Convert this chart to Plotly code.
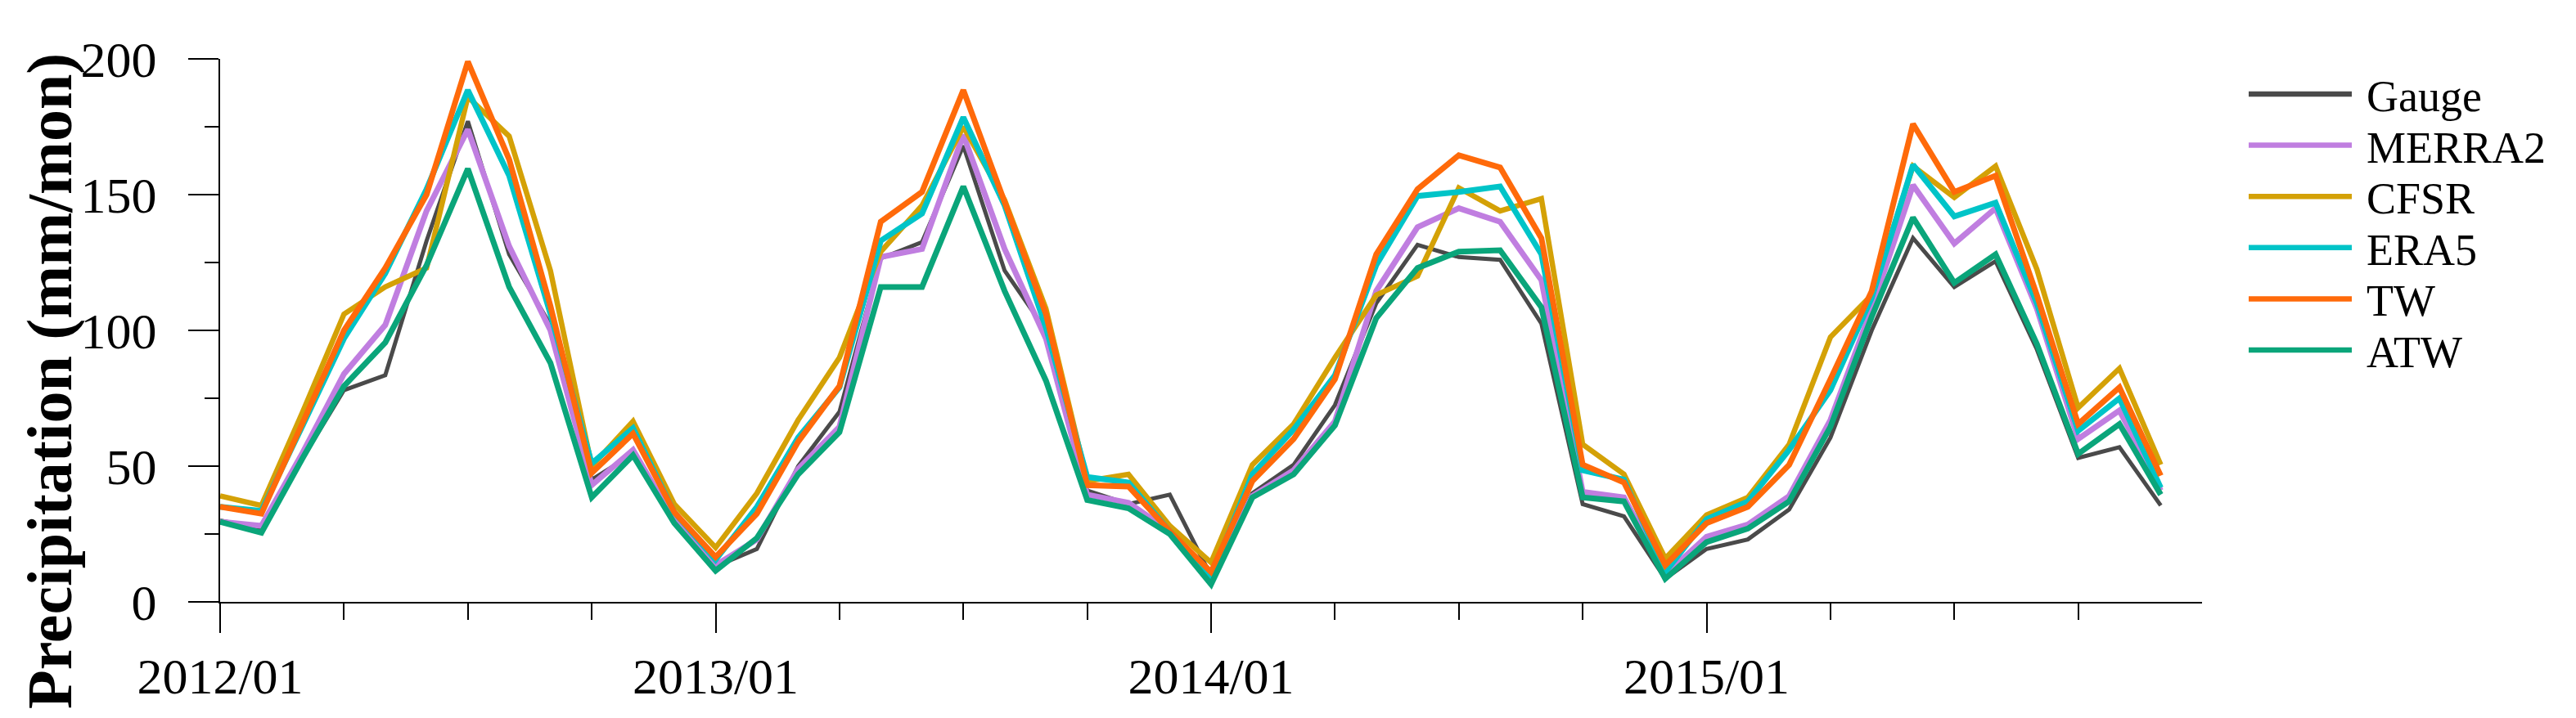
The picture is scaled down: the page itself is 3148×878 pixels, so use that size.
import plotly.graph_objects as go

# ---- data -------------------------------------------------------------
years = [2012, 2013, 2014, 2015]
months = [f"{y}/{m:02d}" for y in years for m in range(1, 13)]

gauge = [30, 27, 53, 78, 83.5, 133, 177, 128, 102, 45, 54.5, 30,
         13, 19.5, 50, 70, 126.5, 132.5, 168, 122, 100, 41, 36, 39.5,
         9.5, 40, 50.5, 72.5, 110, 131.5, 127, 126, 102.5, 36, 31.5, 8.5,
         19.5, 23, 34, 60.5, 100, 134, 116, 125.5, 93, 53, 57, 35.5]
merra2 = [29.5, 28, 55, 84, 102, 144, 174, 131, 100, 43, 56, 30,
          13.5, 23, 49, 64.5, 127, 130, 172, 130, 97, 39.5, 36.5, 26,
          9.5, 39, 48.5, 66.5, 114.5, 138, 145, 140, 118.5, 40.5, 38.5, 10,
          24, 28.5, 39, 67, 108, 153.5, 132, 145, 108, 60, 70.5, 41]
cfsr = [39, 35.5, 70, 106, 116, 123, 186, 171.5, 122, 50, 66.5, 36,
        20, 40, 67, 90, 129, 146, 175, 148, 108, 44.5, 47, 28,
        14.5, 50.5, 65.5, 90, 113, 120, 152.5, 144, 148.5, 58, 47, 16,
        32, 38.5, 58, 97.5, 113, 160.5, 149, 160.5, 122.5, 71.5, 86, 50.5]
era5 = [35, 33.5, 65, 97, 121, 152, 188.5, 157, 106, 51, 64, 33,
        15.5, 35, 60.5, 79, 133, 143, 178.5, 146, 101, 46, 44, 26,
        9.5, 47, 63.5, 83.5, 124, 149.5, 151, 153, 128, 48.5, 45, 11,
        30.5, 37, 56, 78, 112, 161, 142, 147, 110, 63, 75, 42]
tw = [35, 32.5, 66, 100, 123, 150, 199, 163, 109, 47.5, 62, 33,
      16.5, 32.5, 59, 79.5, 140, 151, 188.5, 148, 106, 43, 42.5, 26,
      11, 44.5, 60, 82, 128, 152, 164.5, 160, 134, 50.5, 44, 13.5,
      29, 35, 50.5, 82, 114.5, 176, 151, 157, 113, 65.5, 79, 46.5]
atw = [29.5, 25.5, 53, 79.5, 95.5, 124, 159.5, 116, 88, 38.5, 54, 29,
       11.5, 23.5, 47, 62.5, 116, 116, 153, 114.5, 81.5, 37.5, 34.5, 25,
       6.5, 38.5, 47, 65, 104.5, 123, 129, 129.5, 108.5, 38.5, 37, 8.5,
       22, 27, 37, 64.5, 105, 141.5, 117.5, 128, 95, 54.5, 65.5, 39.5]

series_names = ["Gauge", "MERRA2", "CFSR", "ERA5", "TW", "ATW"]
series_values = [gauge, merra2, cfsr, era5, tw, atw]
series_colors = ["#4a4a4a", "#c07ee0", "#d4a106", "#00c4c8", "#ff6a0a", "#0aa57a"]
series_widths = [5, 7, 6.5, 7, 7, 7]

year_ticks = ["2012/01", "2013/01", "2014/01", "2015/01"]
y_ticks = [0, 50, 100, 150, 200]

# ---- figure -----------------------------------------------------------
W, H = 3148, 878
L, R, T, B = 261, 465, 64, 150
FONT = "Liberation Serif"
TICK_SIZE = 62
plot_w = W - L - R
plot_h = H - T - B


def px_x(p):
    return (p - L) / plot_w


def px_y(p):
    return (H - B - p) / plot_h


x_idx = list(range(len(months)))

fig = go.Figure()
for name, vals, col, lw in zip(series_names, series_values, series_colors, series_widths):
    fig.add_trace(go.Scatter(
        x=x_idx, y=vals, mode="lines", name=name,
        line=dict(color=col, width=lw),
        customdata=months, showlegend=False,
        hovertemplate="%{customdata}: %{y}<extra>" + name + "</extra>",
    ))

major_x = [months.index(t) for t in year_ticks]
minor_x = [i for i in range(3, len(months), 3) if i % 12]

fig.update_layout(
    width=W, height=H,
    margin=dict(l=L, r=R, t=T, b=B),
    paper_bgcolor="white", plot_bgcolor="white",
    font=dict(family=FONT, size=TICK_SIZE, color="black"),
    showlegend=False,
)

fig.update_xaxes(
    range=[0, len(months)],
    tickmode="array", tickvals=major_x, ticktext=year_ticks,
    ticks="outside", ticklen=36, tickwidth=2, tickcolor="black",
    showline=True, linecolor="black", linewidth=2,
    showgrid=False, zeroline=False,
    ticklabelstandoff=0,
    tickfont=dict(family=FONT, size=TICK_SIZE, color="black"),
    minor=dict(tickmode="array", tickvals=minor_x, ticks="outside",
               ticklen=20, tickwidth=2, tickcolor="black", showgrid=False),
)
fig.update_yaxes(
    range=[0, 200],
    tickmode="array", tickvals=y_ticks,
    ticks="outside", ticklen=37, tickwidth=2, tickcolor="black",
    showline=True, linecolor="black", linewidth=2,
    showgrid=False, zeroline=False,
    ticklabelstandoff=26,
    tickfont=dict(family=FONT, size=TICK_SIZE, color="black"),
    minor=dict(tickmode="array", tickvals=[25, 75, 125, 175], ticks="outside",
               ticklen=17, tickwidth=2, tickcolor="black", showgrid=False),
)

# y-axis title
fig.add_annotation(
    text="<b>Precipitation (mm/mon)</b>",
    xref="paper", yref="paper",
    x=px_x(52), y=px_y(458),
    xanchor="center", yanchor="middle",
    textangle=-90, showarrow=False,
    font=dict(family=FONT, size=78, color="black"),
)

# legend (long line samples, as in the original)
LEG_X0, LEG_X1, LEG_TX = 2740, 2866, 2882
LEG_Y0, LEG_DY = 107, 62.6
for i, (name, col) in enumerate(zip(series_names, series_colors)):
    yy = LEG_Y0 + i * LEG_DY
    fig.add_shape(
        type="line", xref="paper", yref="paper",
        x0=px_x(LEG_X0), x1=px_x(LEG_X1), y0=px_y(yy), y1=px_y(yy),
        line=dict(color=col, width=6.5), layer="above",
    )
    fig.add_annotation(
        text=name, xref="paper", yref="paper",
        x=px_x(LEG_TX), y=px_y(yy + 3),
        xanchor="left", yanchor="middle", showarrow=False,
        font=dict(family=FONT, size=54, color="black"),
    )

fig.write_html("out.html")
